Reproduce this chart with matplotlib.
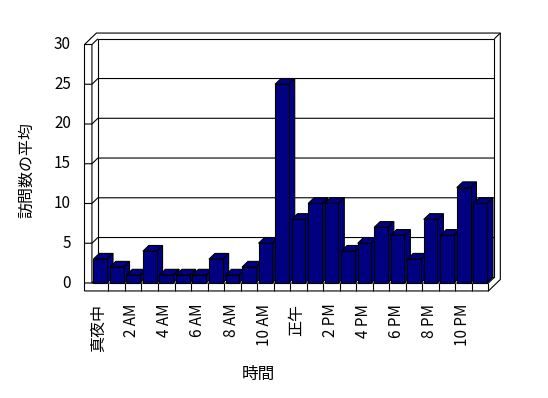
import matplotlib.pyplot as plt
from matplotlib.patches import Polygon

# average visits per hour (24 categories, midnight first)
visits = [3, 2, 1, 4, 1, 1, 1, 3, 1, 2, 5, 25, 8, 10, 10, 4, 5, 7, 6, 3, 8, 6, 12, 10]
# labels are shown on every second hour
hour_labels = ["真夜中", "2 AM", "4 AM", "6 AM", "8 AM", "10 AM",
               "正午", "2 PM", "4 PM", "6 PM", "8 PM", "10 PM"]
y_ticks = [0, 5, 10, 15, 20, 25, 30]

plt.rcParams['font.family'] = ['Noto Sans CJK JP', 'DejaVu Sans']

NAVY = '#000080'
LW = 0.8


# Function to draw a black outline through some points
def line(ax, pts, z=2):
    xs = [p[0] for p in pts]
    ys = [p[1] for p in pts]
    ax.plot(xs, ys, color='black', lw=LW, solid_capstyle='butt', zorder=z)


# Function to draw the walls and floor of the fake 3D box
def draw_box(ax, n, ymax, dx, dy, wall, floor_h):
    left, right = -0.5, n - 0.5

    outer = [(left - wall, -floor_h), (right, -floor_h),
             (right + 2 * dx, -floor_h + 2 * dy), (right + 2 * dx, ymax + 2 * dy),
             (left - wall + 2 * dx, ymax + 2 * dy), (left - wall, ymax)]
    ax.add_patch(Polygon(outer, closed=True, facecolor='white',
                         edgecolor='black', lw=LW, zorder=1))

    # back wall (inner face)
    back = [(left + dx, dy), (right + dx, dy), (right + dx, ymax + dy), (left + dx, ymax + dy)]
    ax.add_patch(Polygon(back, closed=True, facecolor='white',
                         edgecolor='black', lw=LW, zorder=1))

    line(ax, [(left - wall, ymax), (left, ymax), (left + dx, ymax + dy)])
    line(ax, [(right + dx, ymax + dy), (right + 2 * dx, ymax + 2 * dy)])
    line(ax, [(left, ymax), (left, 0), (left + dx, dy)])
    line(ax, [(left - wall, 0), (right, 0), (right + dx, dy)])
    line(ax, [(right, 0), (right, -floor_h)])

    # category ticks on the floor front
    for k in range(1, n):
        line(ax, [(left + k, 0), (left + k, -floor_h)])

    # gridlines wrap from the left wall onto the back wall
    for v in y_ticks[1:-1]:
        line(ax, [(left - wall, v), (left, v), (left + dx, v + dy), (right + dx, v + dy)])


# Function to draw one 3D column
def draw_bar(ax, x, h, width, dx, dy, z):
    x0, x1 = x - width / 2, x + width / 2
    side = [(x1, 0), (x1, h), (x1 + dx, h + dy), (x1 + dx, dy)]
    top = [(x0, h), (x1, h), (x1 + dx, h + dy), (x0 + dx, h + dy)]
    front = [(x0, 0), (x1, 0), (x1, h), (x0, h)]
    for face in (side, top, front):
        ax.add_patch(Polygon(face, closed=True, facecolor=NAVY,
                             edgecolor='black', lw=LW, zorder=z))


def main():
    fig = plt.figure(figsize=(5.48, 3.98), dpi=100)
    ax = fig.add_axes([0, 0, 1, 1])
    # limits chosen so one category = ~16.5 px and one unit = ~8 px
    ax.set_xlim(-6.065, 27.106)
    ax.set_ylim(-14.465, 35.597)
    ax.axis('off')

    n = len(visits)
    dx, dy = 0.36, 0.72
    wall = 0.45
    draw_box(ax, n, y_ticks[-1], dx, dy, wall, 1.0)

    for i, v in enumerate(visits):
        draw_bar(ax, i, v, 0.83, dx, dy, 3 + i * 0.01)

    for v in y_ticks:
        ax.text(-0.5 - wall - 0.82, v, str(v), ha='right', va='center', fontsize=11)

    for j, lab in enumerate(hour_labels):
        size = 11.5 if lab[0] in "真正" else 11
        ax.text(2 * j - 0.08, -2.6, lab, rotation=90, ha='center', va='top', fontsize=size)

    ax.text(0.049, 0.573, "訪問数の平均", rotation=90, ha='center', va='center',
            fontsize=11.5, transform=ax.transAxes)
    ax.text(0.471, 0.058, "時間", ha='center', va='center',
            fontsize=12, transform=ax.transAxes)

    fig.savefig('out.png', dpi=100)


if __name__ == '__main__':
    main()
